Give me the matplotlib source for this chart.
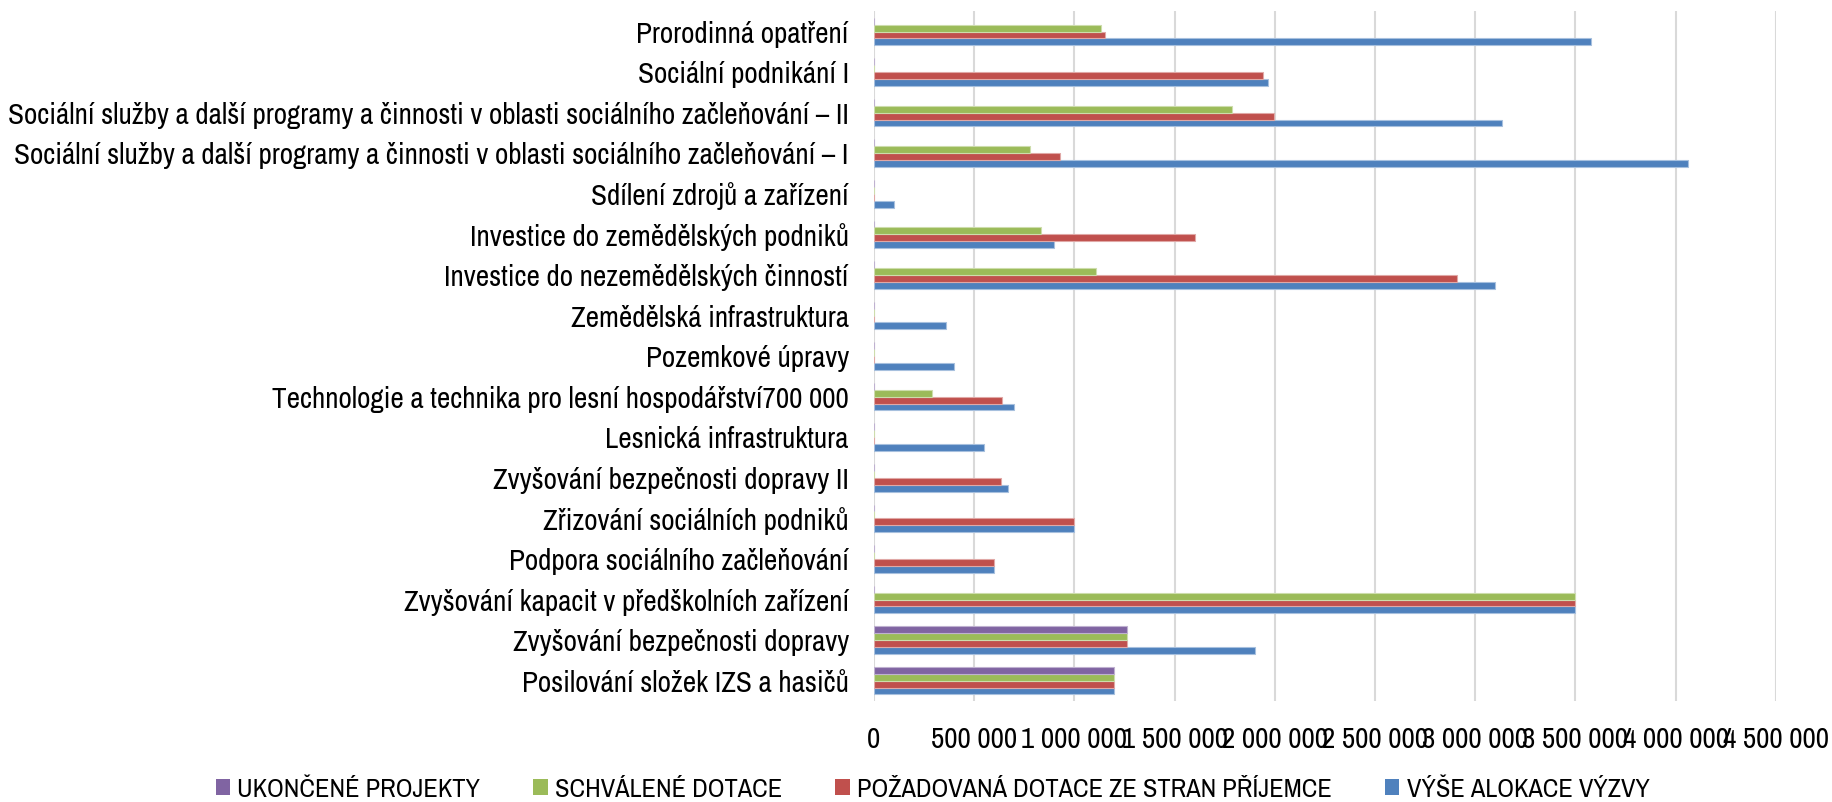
import numpy as np
import matplotlib
matplotlib.use("Agg")
import matplotlib.pyplot as plt
from matplotlib.patches import Patch

# data (bottom -> top, as Excel draws it)
categories = [
    "Posilování složek IZS a hasičů",
    "Zvyšování bezpečnosti dopravy",
    "Zvyšování kapacit v předškolních zařízení",
    "Podpora sociálního začleňování",
    "Zřizování sociálních podniků",
    "Zvyšování bezpečnosti dopravy II",
    "Lesnická infrastruktura",
    "Technologie a technika pro lesní hospodářství700 000",
    "Pozemkové úpravy",
    "Zemědělská infrastruktura",
    "Investice do nezemědělských činností",
    "Investice do zemědělských podniků",
    "Sdílení zdrojů a zařízení",
    "Sociální služby a další programy a činnosti v oblasti sociálního začleňování – I",
    "Sociální služby a další programy a činnosti v oblasti sociálního začleňování – II",
    "Sociální podnikání I",
    "Prorodinná opatření",
]
alokace = [1200000, 1900000, 3500000, 600000, 1000000, 670000, 550000, 700000,
           400000, 360000, 3100000, 900000, 100000, 4060000, 3135000, 1965000, 3575000]
pozadovana = [1200000, 1265000, 3500000, 600000, 1000000, 635000, 0, 640000,
              0, 0, 2910000, 1600000, 0, 930000, 1995000, 1940000, 1155000]
schvalene = [1200000, 1265000, 3500000, 0, 0, 0, 0, 290000,
             0, 0, 1110000, 835000, 0, 780000, 1785000, 0, 1135000]
ukoncene = [1200000, 1265000, 0, 0, 0, 0, 0, 0,
            0, 0, 0, 0, 0, 0, 0, 0, 0]
series_names = ["VÝŠE ALOKACE VÝZVY", "POŽADOVANÁ DOTACE ZE STRAN PŘÍJEMCE",
                "SCHVÁLENÉ DOTACE", "UKONČENÉ PROJEKTY"]
xticks = np.arange(0, 4500001, 500000)

colors = ["#4F81BD", "#C0504D", "#9BBB59", "#8064A2"]
edges = ["#A7C0DE", "#E0A8A6", "#CDDDAC", "#BFB1D0"]

plt.rcParams['font.family'] = ['Archivo Narrow', 'DejaVu Sans']

fig = plt.figure(figsize=(18.32, 8.02), dpi=100)
ax = fig.add_axes([0.477, 0.126, 0.4924, 0.86])

y = np.arange(len(categories))
h = 0.17
allvals = [alokace, pozadovana, schvalene, ukoncene]
for i, vals in enumerate(allvals):
    ax.barh(y + (i - 1.5) * h, vals, height=h, color=colors[i],
            edgecolor=edges[i], linewidth=0.8, zorder=3)

ax.set_xlim(0, 4500000)
ax.set_ylim(-0.5, len(categories) - 0.5)
ax.set_xticks(xticks)
ax.set_xticklabels(["0"] + ["{:,}".format(v).replace(",", " ") for v in xticks[1:]])
ax.set_yticks(y)
ax.set_yticklabels(categories)
ax.tick_params(axis='both', length=0, labelsize=21, colors='black')
ax.tick_params(axis='y', pad=18)
ax.tick_params(axis='x', pad=18)
ax.grid(axis='x', color='#D9D9D9', linewidth=1.5, zorder=0)
for s in ax.spines.values():
    s.set_visible(False)

handles = [Patch(facecolor=colors[i], edgecolor='none', label=series_names[i])
           for i in [3, 2, 1, 0]]
fig.legend(handles=handles, loc='center', bbox_to_anchor=(0.509, 0.016), ncol=4,
           frameon=False, fontsize=19, handlelength=0.55, handleheight=0.55,
           handletextpad=0.28, columnspacing=2.0, borderpad=0.1)

fig.savefig("out.png", dpi=100)
